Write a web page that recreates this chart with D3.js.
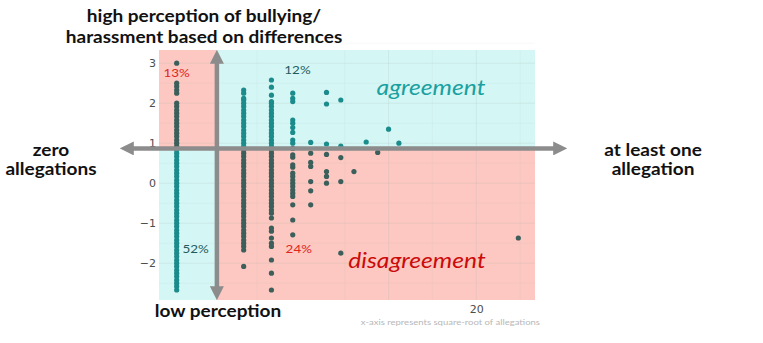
<!DOCTYPE html>
<html>
<head>
<meta charset="utf-8">
<script src="https://cdn.jsdelivr.net/npm/d3@7"></script>
<style>
  body { margin: 0; background: #fff; }
  svg { display: block; font-family: Lato, "Open Sans", sans-serif; }
</style>
</head>
<body>
<div id="chart"></div>
<script>
// allegation counts (x is drawn on a square-root scale)
const allegations = [0, 1, 2, 3, 4, 5, 6, 7, 8, 9, 10, 11, 26];

// perception scores for each allegation count
const scores0 = [-2.67, -2.58, -2.5, -2.42, -2.33, -2.25, -2.17, -2.08, -2, -1.92, -1.83, -1.75, -1.67, -1.58, -1.5,
  -1.42, -1.33, -1.25, -1.17, -1.08, -1, -0.92, -0.83, -0.75, -0.67, -0.58, -0.5, -0.42, -0.33, -0.25, -0.17, -0.08,
  0, 0.08, 0.17, 0.25, 0.33, 0.42, 0.5, 0.58, 0.67, 0.75, 0.83, 0.92, 1, 1.08, 1.17, 1.25, 1.33, 1.42, 1.5, 1.58,
  1.67, 1.75, 1.83, 1.92, 2, 2.25, 2.33, 2.42, 2.5, 3];
const scores1 = [-2.08, -1.67, -1.58, -1.5, -1.42, -1.33, -1.25, -1.17, -1.08, -1, -0.92, -0.83, -0.75, -0.67, -0.58,
  -0.5, -0.42, -0.33, -0.25, -0.17, -0.08, 0, 0.08, 0.17, 0.25, 0.33, 0.42, 0.5, 0.58, 0.67, 0.75, 0.83, 0.92, 1,
  1.08, 1.17, 1.25, 1.33, 1.42, 1.5, 1.58, 1.67, 1.75, 1.83, 1.92, 2, 2.08, 2.12, 2.25, 2.33];
const scores2 = [-2.67, -2.25, -1.92, -1.58, -1.5, -1.37, -1.2, -1.12, -0.87, -0.75, -0.67, -0.58, -0.5, -0.42, -0.33,
  -0.25, -0.17, -0.08, 0, 0.08, 0.17, 0.25, 0.33, 0.42, 0.5, 0.58, 0.67, 0.75, 0.83, 0.92, 1, 1.08, 1.17, 1.25, 1.33,
  1.42, 1.5, 1.58, 1.67, 1.75, 1.83, 1.92, 2, 2.04, 2.2, 2.4, 2.58];
const scores3 = [-1.29, -0.92, -0.54, -0.33, -0.25, -0.17, -0.08, 0, 0.08, 0.17, 0.25, 0.4, 0.46, 0.65, 0.71, 0.87,
  1, 1.08, 1.27, 1.39, 1.5, 1.58, 2.04, 2.12, 2.25];
const scores4 = [-0.54, -0.19, 0.04, 0.42, 0.52, 0.75, 1.02];
const scores5 = [0, 0.17, 0.29, 0.72, 0.98, 1.98, 2.27];
const scores6 = [-1.75, 0.04, 0.64, 0.93, 2.08];
const scores7 = [0.29];
const scores8 = [1.03];
const scores9 = [0.77];
const scores10 = [1.35];
const scores11 = [1];
const scores26 = [-1.37];
const scoreColumns = [scores0, scores1, scores2, scores3, scores4, scores5, scores6,
  scores7, scores8, scores9, scores10, scores11, scores26];

const yTicks = [-2, -1, 0, 1, 2, 3];
const xTickLabels = [20];
const xMajorBreaks = [10, 20];

// quadrant split (allegations, perception) and share of respondents per quadrant
const splitX = 0.36;
const splitY = 0.87;
const quadrantShares = [
  { label: "13%", ax: 0, ay: 2.66, color: "#e0261c" },
  { label: "12%", ax: 3.25, ay: 2.72, color: "#1f5c5e" },
  { label: "52%", ax: 0.08, ay: -1.74, color: "#1f5c5e" },
  { label: "24%", ax: 3.32, ay: -1.74, color: "#e0261c" }
];

const width = 763, height = 343;
const panel = { left: 159, right: 535, top: 50, bottom: 300 };
const stretch = 1.12; // text in the original is widened horizontally

const svg = d3.select("#chart").append("svg")
  .attr("width", width)
  .attr("height", height);

const x = d3.scaleSqrt().domain([-0.0697, 28.6]).range([panel.left, panel.right]);
const y = d3.scaleLinear().domain([-2.92, 3.33]).range([panel.bottom, panel.top]);

const pink = "#fcc8c1", cyan = "#d4f6f4";

// quadrant backgrounds
const quads = [
  { x0: x.domain()[0], x1: splitX, y0: splitY, y1: y.domain()[1], fill: pink },
  { x0: splitX, x1: x.domain()[1], y0: splitY, y1: y.domain()[1], fill: cyan },
  { x0: x.domain()[0], x1: splitX, y0: y.domain()[0], y1: splitY, fill: cyan },
  { x0: splitX, x1: x.domain()[1], y0: y.domain()[0], y1: splitY, fill: pink }
];
svg.append("g").selectAll("rect")
  .data(quads)
  .join("rect")
  .attr("x", d => x(d.x0))
  .attr("y", d => y(d.y1))
  .attr("width", d => x(d.x1) - x(d.x0))
  .attr("height", d => y(d.y0) - y(d.y1))
  .attr("fill", d => d.fill);

// grid: majors on ticks, minors half way in transformed space
const grid = svg.append("g").attr("stroke", "#9aa");
const yMinor = yTicks.map(t => t + 0.5).concat([-2.5]);
grid.selectAll(".ymin").data(yMinor).join("line")
  .attr("x1", panel.left).attr("x2", panel.right)
  .attr("y1", d => y(d)).attr("y2", d => y(d))
  .attr("stroke-opacity", 0.12).attr("stroke-width", 0.6);
grid.selectAll(".ymaj").data(yTicks).join("line")
  .attr("x1", panel.left).attr("x2", panel.right)
  .attr("y1", d => y(d)).attr("y2", d => y(d))
  .attr("stroke-opacity", 0.16).attr("stroke-width", 1);

const step = (Math.sqrt(xMajorBreaks[1]) - Math.sqrt(xMajorBreaks[0])) / 2;
const xMinor = d3.range(-5, 4).map(k => Math.sqrt(xMajorBreaks[0]) + (2 * k + 1) * step)
  .filter(t => t > 0 && t < Math.sqrt(x.domain()[1]))
  .map(t => t * t);
grid.selectAll(".xmin").data(xMinor).join("line")
  .attr("y1", panel.top).attr("y2", panel.bottom)
  .attr("x1", d => x(d)).attr("x2", d => x(d))
  .attr("stroke-opacity", 0.12).attr("stroke-width", 0.6);
grid.selectAll(".xmaj").data(xMajorBreaks).join("line")
  .attr("y1", panel.top).attr("y2", panel.bottom)
  .attr("x1", d => x(d)).attr("x2", d => x(d))
  .attr("stroke-opacity", 0.16).attr("stroke-width", 1);

// points
const points = [];
allegations.forEach((n, i) => scoreColumns[i].forEach(s => points.push({ n, s })));
svg.append("g").selectAll("circle")
  .data(points)
  .join("circle")
  .attr("cx", d => x(d.n))
  .attr("cy", d => y(d.s))
  .attr("r", 2.6)
  .attr("fill", d => ((d.n > splitX) === (d.s > splitY)) ? "#1b8c8b" : "#3c5f5b");

// axes
const yAxis = svg.append("g")
  .attr("transform", `translate(${panel.left},0)`)
  .call(d3.axisLeft(y).tickValues(yTicks).tickSize(0).tickPadding(3).tickFormat(d3.format("d")));
yAxis.select(".domain").remove();
yAxis.selectAll("text").attr("fill", "#4d4d4d").style("font-size", "11px").style("font-family", "'DejaVu Sans', sans-serif");

const xAxis = svg.append("g")
  .attr("transform", `translate(0,${panel.bottom})`)
  .call(d3.axisBottom(x).tickValues(xTickLabels).tickSize(0).tickPadding(5).tickFormat(d3.format("d")));
xAxis.select(".domain").remove();
xAxis.selectAll("text").attr("fill", "#4d4d4d").style("font-size", "11px").style("font-family", "'DejaVu Sans', sans-serif");

// arrows
const defs = svg.append("defs");
defs.append("marker")
  .attr("id", "head")
  .attr("viewBox", "0 0 10 10")
  .attr("refX", 2).attr("refY", 5)
  .attr("markerWidth", 3.1).attr("markerHeight", 3.1)
  .attr("markerUnits", "strokeWidth")
  .attr("orient", "auto-start-reverse")
  .append("path")
  .attr("d", "M0,0L10,5L0,10Z")
  .attr("fill", "#8c8c8c");

const arrowY = y(splitY);
svg.append("line")
  .attr("x1", 131).attr("x2", 556)
  .attr("y1", arrowY).attr("y2", arrowY)
  .attr("stroke", "#8c8c8c").attr("stroke-width", 4.5)
  .attr("marker-start", "url(#head)").attr("marker-end", "url(#head)");
const arrowX = x(splitX);
svg.append("line")
  .attr("x1", arrowX).attr("x2", arrowX)
  .attr("y1", panel.top + 11).attr("y2", panel.bottom - 11)
  .attr("stroke", "#8c8c8c").attr("stroke-width", 4.5)
  .attr("marker-start", "url(#head)").attr("marker-end", "url(#head)");

// text helper: horizontally widened, anchored at (cx, baseline)
function label(cx, by, lines, lh, anchor) {
  const t = svg.append("g")
    .attr("transform", `translate(${cx},${by}) scale(${stretch},1)`)
    .append("text")
    .attr("text-anchor", anchor || "middle");
  lines.forEach((l, i) => t.append("tspan").attr("x", 0).attr("y", i * lh).text(l));
  return t;
}

// quadrant shares
quadrantShares.forEach(d => {
  label(x(d.ax), y(d.ay), [d.label], 0)
    .attr("fill", d.color)
    .style("font-size", "12px");
});

label(431, 95, ["agreement"], 0)
  .attr("fill", "#19a0a0")
  .style("font-size", "22px").style("font-style", "italic");
label(417, 268, ["disagreement"], 0)
  .attr("fill", "#cc0a0a")
  .style("font-size", "22px").style("font-style", "italic");

// outer labels
const bold = (lines, cx, y0, lh) => label(cx, y0, lines, lh)
  .attr("fill", "#111")
  .style("font-size", "17px").style("font-weight", "bold");
bold(["high perception of bullying/", "harassment based on differences"], 204, 22, 21);
bold(["zero", "allegations"], 51, 156, 19);
bold(["at least one", "allegation"], 653, 156, 19);
bold(["low perception"], 218, 317, 0);

label(540, 325, ["x-axis represents square-root of allegations"], 0, "end")
  .attr("fill", "#b8b8b8")
  .style("font-size", "8.5px");
</script>
</body>
</html>
